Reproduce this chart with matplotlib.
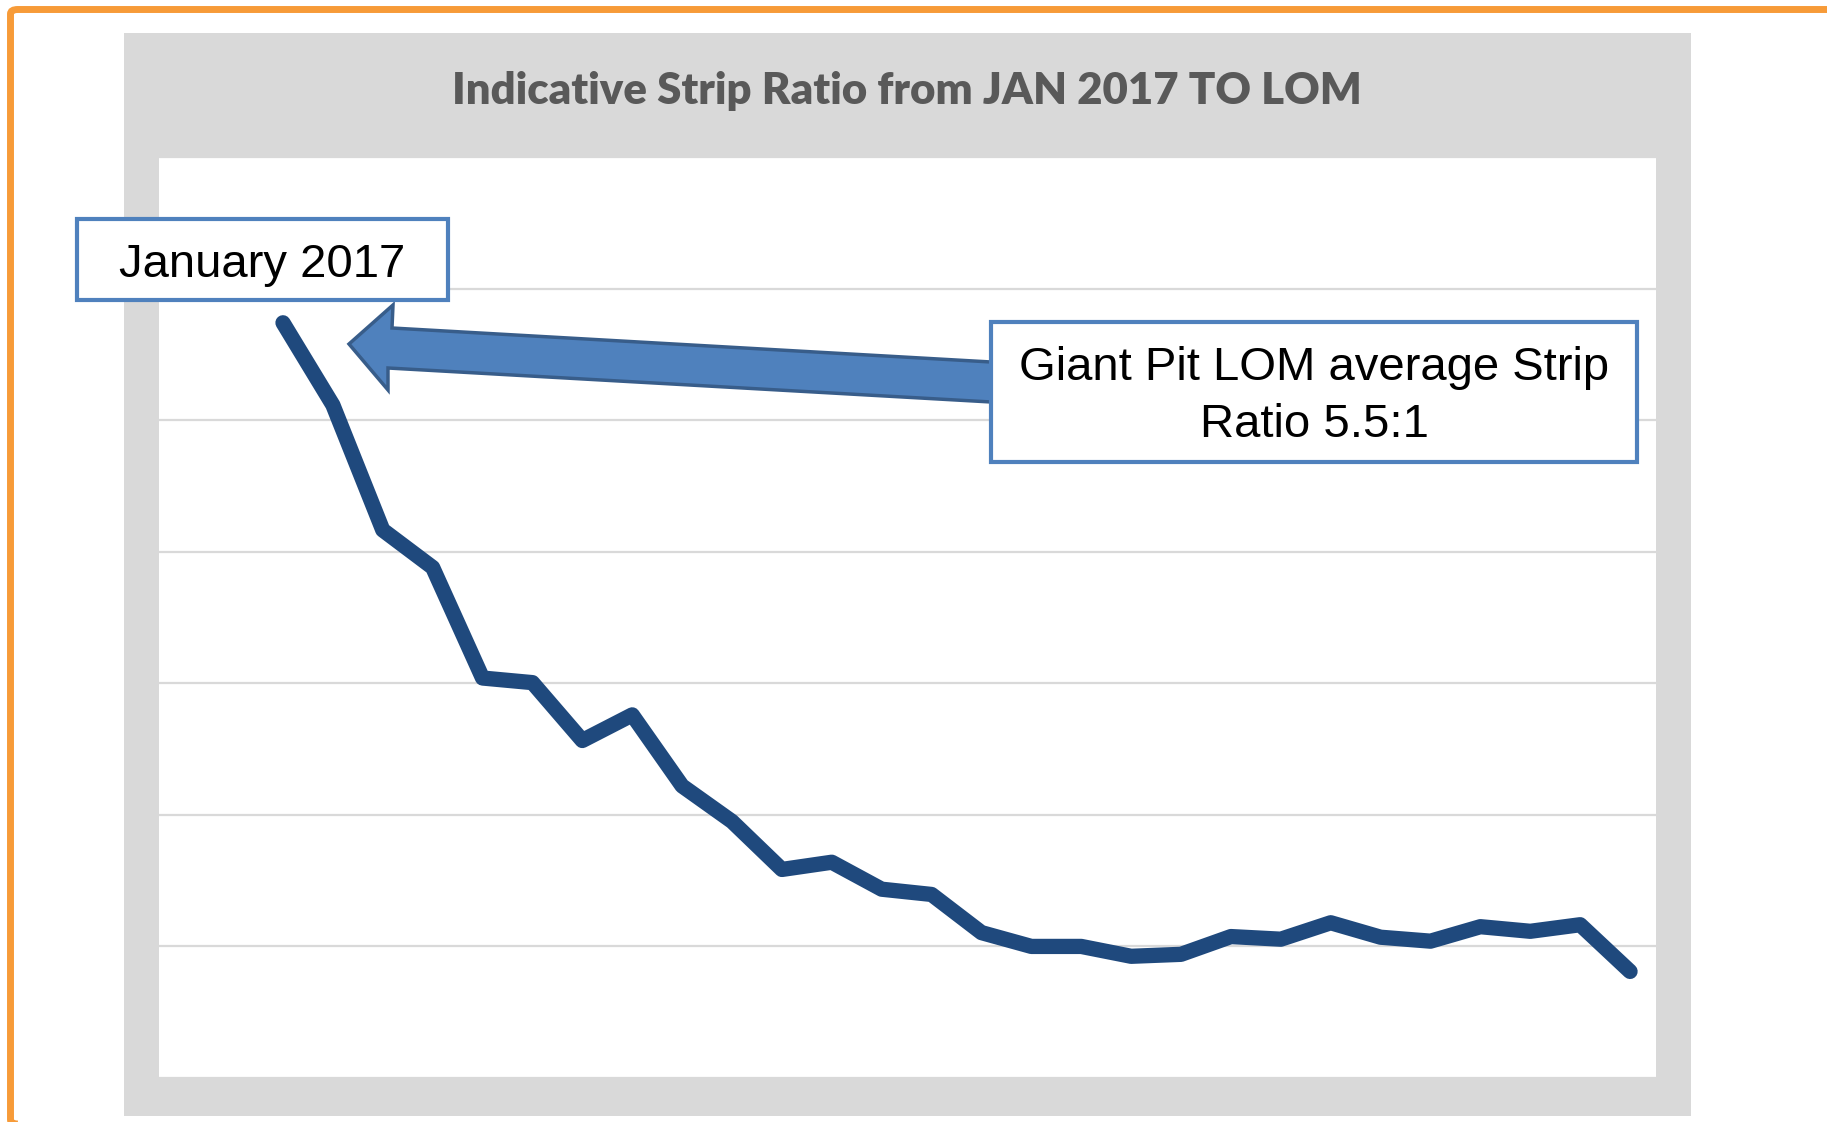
import matplotlib.pyplot as plt
from matplotlib.patches import Rectangle, Polygon, FancyBboxPatch

# Strip ratio by period, Jan 2017 onwards to LOM
periods = list(range(28))
strip_ratio = [11.48, 10.23, 8.33, 7.76, 6.08, 6.01, 5.13, 5.52, 4.44, 3.90,
               3.17, 3.28, 2.87, 2.79, 2.21, 2.00, 2.00, 1.85, 1.88, 2.15,
               2.11, 2.36, 2.14, 2.08, 2.30, 2.23, 2.33, 1.62]
y_ticks = [0, 2, 4, 6, 8, 10, 12, 14]

title = 'Indicative Strip Ratio from JAN 2017 TO LOM'
start_label = 'January 2017'
lom_label = ['Giant Pit LOM average Strip', 'Ratio 5.5:1']

W, H = 1827, 1122
LINE_COL = '#1F497D'
BOX_COL = '#4F81BD'
GRID_COL = '#D9D9D9'


def fx(x):
    return x / W


def fy(y):
    return 1 - y / H


fig = plt.figure(figsize=(W / 100, H / 100), dpi=100)
fig.patch.set_facecolor('white')

# grey chart area behind the plot
fig.add_artist(Rectangle((fx(124), fy(1116)), fx(1691) - fx(124), fy(33) - fy(1116),
                         transform=fig.transFigure, facecolor=GRID_COL,
                         edgecolor='none', zorder=-1))

# orange outer frame (cut off on the right and bottom)
fig.add_artist(FancyBboxPatch((fx(10.5), fy(1124)), fx(1880) - fx(10.5), fy(9.5) - fy(1124),
                              boxstyle='round,pad=0,rounding_size=0.004',
                              transform=fig.transFigure, facecolor='none',
                              edgecolor='#F79B38', linewidth=5, zorder=5))

ax = fig.add_axes([fx(159), fy(1078), fx(1656) - fx(159), fy(157) - fy(1078)])
ax.set_facecolor('white')
for s in ax.spines.values():
    s.set_visible(False)
ax.set_xlim(-2.485, 27.52)
ax.set_ylim(0, 14)
ax.set_yticks(y_ticks)
ax.set_xticks([])
ax.tick_params(left=False, labelleft=False)
ax.grid(axis='y', color=GRID_COL, linewidth=1.6)
ax.set_axisbelow(True)

ax.plot(periods, strip_ratio, color=LINE_COL, linewidth=11,
        solid_capstyle='round', solid_joinstyle='round', zorder=3)

fig.text(fx(907), fy(104), title, ha='center', va='baseline',
         fontsize=31.5, fontweight='heavy', family='Lato', color='#595959')

# block arrow pointing at the first point
arrow_px = [(349, 344), (393, 305), (392, 328), (1000, 362.5),
            (1000, 402.5), (388, 368), (388, 390)]
fig.add_artist(Polygon([(fx(x), fy(y)) for x, y in arrow_px], closed=True,
                       transform=fig.transFigure, facecolor=BOX_COL,
                       edgecolor='#385D8A', linewidth=2.5, zorder=2))

# callout boxes
for (x0, y0, x1, y1) in [(77, 219, 448, 300), (991, 322, 1637, 462)]:
    fig.add_artist(Rectangle((fx(x0), fy(y1)), fx(x1) - fx(x0), fy(y0) - fy(y1),
                             transform=fig.transFigure, facecolor='white',
                             edgecolor=BOX_COL, linewidth=3, zorder=3))

fig.text(fx(262), fy(277), start_label, ha='center', va='baseline',
         fontsize=34, family='Liberation Sans', color='black', zorder=4)
fig.text(fx(1314), fy(380), lom_label[0], ha='center', va='baseline',
         fontsize=34, family='Liberation Sans', color='black', zorder=4)
fig.text(fx(1314), fy(437), lom_label[1], ha='center', va='baseline',
         fontsize=34, family='Liberation Sans', color='black', zorder=4)

fig.savefig('out.png', dpi=100)
